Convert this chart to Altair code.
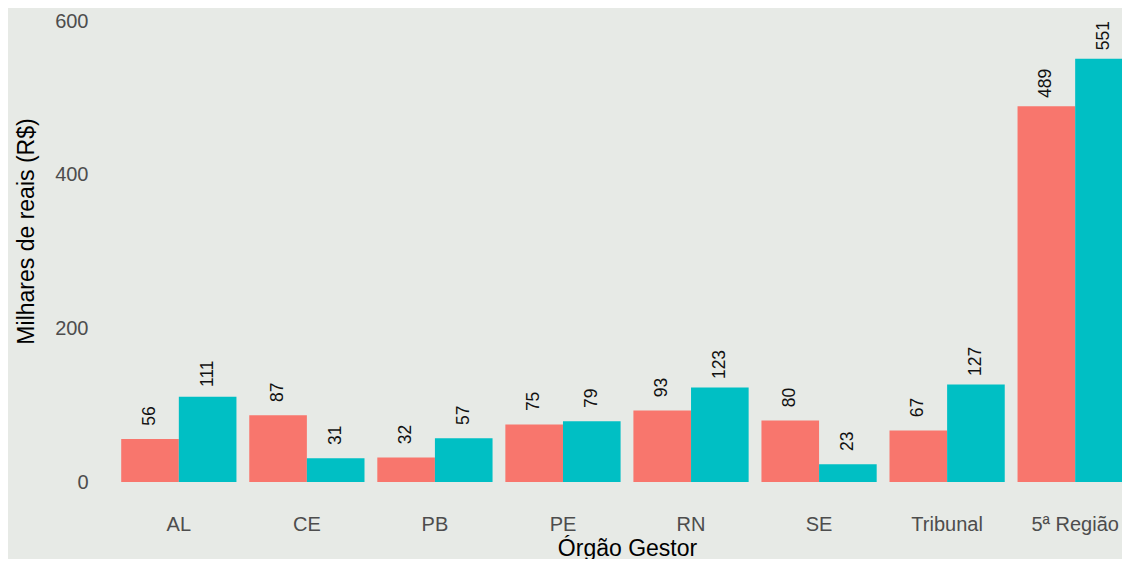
import altair as alt
import pandas as pd

orgaos = ["AL", "CE", "PB", "PE", "RN", "SE", "Tribunal", "5ª Região"]
serie_1 = [56, 87, 32, 75, 93, 80, 67, 489]
serie_2 = [111, 31, 57, 79, 123, 23, 127, 551]
series = ["Série 1", "Série 2"]
cores = ["#F8766D", "#00BFC4"]
y_ticks = [0, 200, 400, 600]

rows = []
for o, a, b in zip(orgaos, serie_1, serie_2):
    rows.append({"orgao": o, "serie": series[0], "valor": a})
    rows.append({"orgao": o, "serie": series[1], "valor": b})
df = pd.DataFrame(rows)

FONT = "Liberation Sans"

x_enc = alt.X(
    "orgao:N",
    sort=orgaos,
    title="Órgão Gestor",
    scale=alt.Scale(paddingInner=0.1, paddingOuter=0.15),
    axis=alt.Axis(
        labelAngle=0,
        labelFont=FONT,
        labelFontSize=20,
        labelColor="#4D4D4D",
        labelBaseline="alphabetic",
        labelPadding=48,
        ticks=False,
        tickSize=0,
        domain=False,
        grid=False,
        titleFont=FONT,
        titleFontSize=23,
        titleFontWeight="normal",
        titleColor="#000000",
        titleBaseline="alphabetic",
        titleY=73,
    ),
)

y_enc = alt.Y(
    "valor:Q",
    scale=alt.Scale(domain=[0, 613.1], nice=False, zero=True),
    axis=alt.Axis(
        values=y_ticks,
        labelFont=FONT,
        labelFontSize=20,
        labelColor="#4D4D4D",
        labelPadding=14,
        ticks=False,
        tickSize=0,
        domain=False,
        grid=False,
        title="Milhares de reais (R$)",
        titleFont=FONT,
        titleFontSize=23,
        titleFontWeight="normal",
        titleColor="#000000",
        titleAngle=270,
        titleBaseline="alphabetic",
        titleAlign="center",
        titleX=-69,
        titleY=220,
    ),
)

x_off = alt.XOffset("serie:N", sort=series, scale=alt.Scale(paddingInner=0, paddingOuter=0))
color_enc = alt.Color("serie:N", scale=alt.Scale(domain=series, range=cores), legend=None)

base = alt.Chart(df).encode(x=x_enc, xOffset=x_off)

bars = base.mark_bar().encode(y=y_enc, color=color_enc)

labels = base.mark_text(
    angle=270,
    align="center",
    baseline="middle",
    dx=23,
    font=FONT,
    fontSize=17.5,
    color="#111111",
).encode(y=alt.Y("valor:Q"), text=alt.Text("valor:Q", format="d"))

chart = (
    alt.layer(bars, labels)
    .properties(
        width=1050,
        height=471,
        padding={"left": 94, "top": 3, "right": -30, "bottom": 77},
        autosize=alt.AutoSizeParams(type="none"),
        background="#E7EAE6",
    )
    .configure_view(stroke=None)
)

chart.save("out.html", embed_options={"renderer": "svg", "actions": False})
